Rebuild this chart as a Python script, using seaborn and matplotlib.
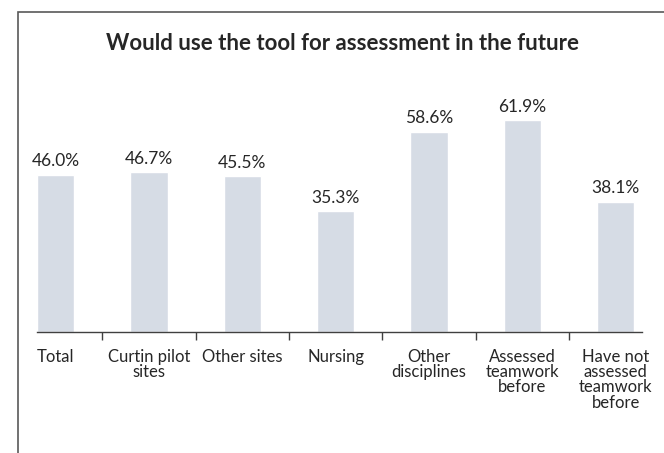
import matplotlib
matplotlib.use("Agg")
import matplotlib.pyplot as plt
import seaborn as sns
import pandas as pd
from matplotlib.patches import Rectangle

# data
groups = ["Total", "Curtin pilot\nsites", "Other sites", "Nursing", "Other\ndisciplines",
          "Assessed\nteamwork\nbefore", "Have not\nassessed\nteamwork\nbefore"]
percent = [46.0, 46.7, 45.5, 35.3, 58.6, 61.9, 38.1]
title = "Would use the tool for assessment in the future"

sns.set_theme(style="white")
plt.rcParams['font.family'] = ['Lato', 'DejaVu Sans']

df = pd.DataFrame({'group': groups, 'percent': percent})

fig = plt.figure(figsize=(6.64, 4.53), dpi=100)
ax = fig.add_axes([37 / 664, 121 / 453, 605 / 664, 239.4 / 453])

sns.barplot(data=df, x='group', y='percent', color='#D6DCE5', width=0.4,
            saturation=1, ax=ax)
ax.bar_label(ax.containers[0], fmt='%.1f%%', padding=4, fontsize=12.5, color='#262626')

ax.set_xlim(-0.2, 6.281)
ax.set_ylim(0, 70)
ax.set_xlabel('')
ax.set_ylabel('')
ax.set_yticks([])
for side in ['top', 'right', 'left']:
    ax.spines[side].set_visible(False)
ax.spines['bottom'].set_color('#404040')
ax.spines['bottom'].set_linewidth(1)

ax.tick_params(axis='x', which='major', length=0, pad=12, labelsize=12, labelcolor='#262626')
ax.set_xticks(range(len(groups)))
ax.set_xticklabels(groups, linespacing=0.95, va='top')
ax.set_xticks([i + 0.5 for i in range(len(groups) - 1)], minor=True)
ax.tick_params(axis='x', which='minor', bottom=True, length=6, width=1, color='#404040',
               direction='out')

fig.text(343 / 664, 1 - 44 / 453, title, ha='center', va='center', fontsize=16,
         fontweight='bold', color='#262626')

# outer chart frame, cut off at the right and bottom
fig.patches.append(Rectangle((17.5 / 664, -0.1), 1.2, 1 - 11.5 / 453 + 0.1,
                             transform=fig.transFigure, fill=False,
                             edgecolor='#595959', linewidth=1.2))

fig.savefig('out.png', dpi=100)
